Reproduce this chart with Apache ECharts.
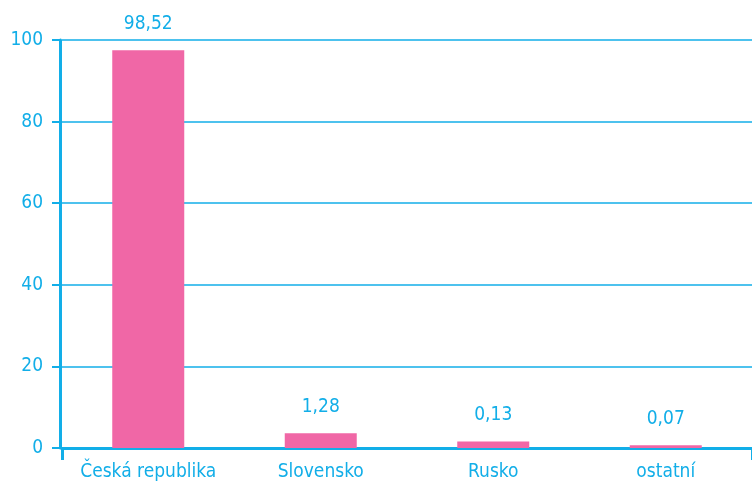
<!DOCTYPE html>
<html>
<head>
<meta charset="utf-8">
<script src="https://cdn.jsdelivr.net/npm/echarts@6/dist/echarts.min.js"></script>
<style>html,body{margin:0;padding:0;background:#fff}#chart{width:752px;height:483px}</style>
</head>
<body>
<div id="chart"></div>
<script>
// data
var categories = ['Česká republika', 'Slovensko', 'Rusko', 'ostatní'];
var barValues = [97.5, 3.6, 1.6, 0.7];          // bar heights as drawn
var valueLabels = ['98,52', '1,28', '0,13', '0,07']; // printed values
var yTicks = [0, 20, 40, 60, 80, 100];

var blue = '#12aee8';
var font = '"DejaVu Sans Condensed", sans-serif';
var chart = echarts.init(document.getElementById('chart'));
var option = {
    animation: false,
    textStyle: { fontFamily: font },
    grid: { left: 62, top: 40, width: 698, height: 408 },
    xAxis: {
        type: 'category',
        data: categories,
        axisLine: { lineStyle: { color: blue, width: 3 } },
        axisTick: { show: true, length: 12, interval: function (i) { return i === 0; }, lineStyle: { color: blue, width: 3 } },
        axisLabel: { color: blue, fontSize: 19, margin: 15, interval: 0, fontFamily: font }
    },
    yAxis: {
        type: 'value',
        offset: 2,
        min: yTicks[0],
        max: yTicks[yTicks.length - 1],
        interval: 20,
        axisLine: { show: true, lineStyle: { color: blue, width: 3 } },
        axisTick: { show: true, length: 8, lineStyle: { color: blue, width: 2 } },
        axisLabel: { color: blue, fontSize: 19, margin: 17, fontFamily: font },
        splitLine: { lineStyle: { color: blue, width: 1.5 } }
    },
    series: [{
        type: 'bar',
        data: barValues,
        barWidth: 72,
        itemStyle: { color: '#f067a6' },
        label: {
            show: true,
            position: 'top',
            distance: 17,
            color: blue,
            fontSize: 19,
            fontFamily: font,
            formatter: function (p) { return valueLabels[p.dataIndex]; }
        }
    }]
};
chart.setOption(option);
</script>
</body>
</html>
